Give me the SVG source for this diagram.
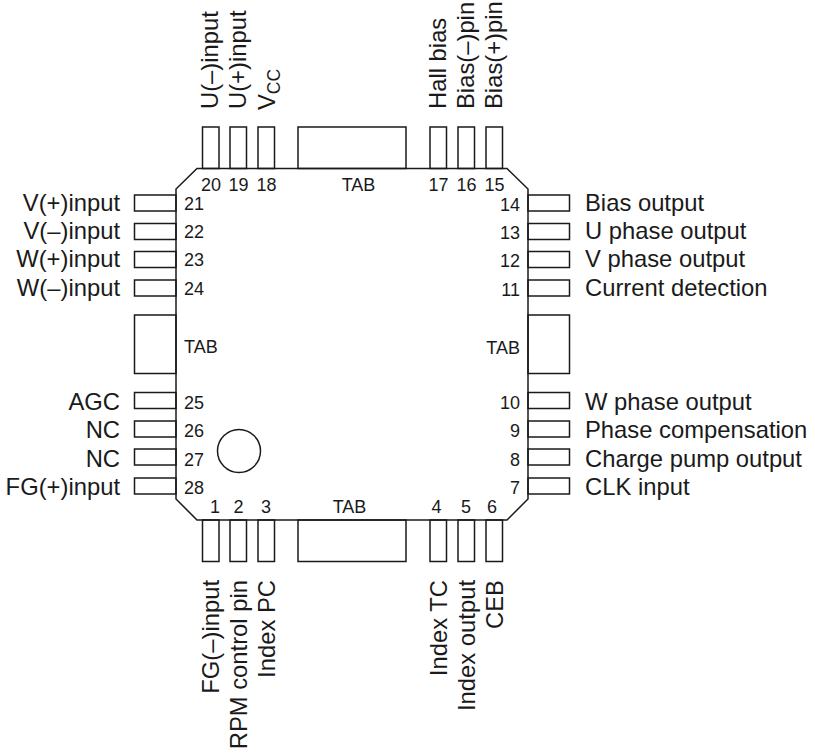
<svg xmlns="http://www.w3.org/2000/svg" width="815" height="755" viewBox="0 0 815 755">
<style>
rect,polygon,circle{fill:#fff;stroke:#1a1a1a;stroke-width:1.5}
text{font-family:"Liberation Sans",Arial,sans-serif;fill:#1a1a1a}
.l{font-size:23.8px}
.n{font-size:18px}
.e{text-anchor:end}
.m{text-anchor:middle}
</style>
<rect width="815" height="755" style="fill:#fff;stroke:none"/>
<g id="pins">
<rect x="202.500" y="127" width="16.500" height="41.500"/><rect x="230" y="127" width="16.500" height="41.500"/><rect x="258" y="127" width="16.500" height="41.500"/>
<rect x="298" y="127" width="108" height="41.500"/>
<rect x="430" y="127" width="16.500" height="41.500"/><rect x="458" y="127" width="16.500" height="41.500"/><rect x="486" y="127" width="16.500" height="41.500"/>
<rect x="202.500" y="520" width="16.500" height="41.500"/><rect x="230" y="520" width="16.500" height="41.500"/><rect x="258" y="520" width="16.500" height="41.500"/>
<rect x="298" y="520" width="108" height="41.500"/>
<rect x="430" y="520" width="16.500" height="41.500"/><rect x="458" y="520" width="16.500" height="41.500"/><rect x="486" y="520" width="16.500" height="41.500"/>
<rect x="134.500" y="195" width="41.500" height="16"/><rect x="134.500" y="223.500" width="41.500" height="16"/><rect x="134.500" y="251.500" width="41.500" height="16"/><rect x="134.500" y="280" width="41.500" height="16"/>
<rect x="134.500" y="315" width="41.500" height="58.500"/>
<rect x="134.500" y="392.500" width="41.500" height="16"/><rect x="134.500" y="421" width="41.500" height="16"/><rect x="134.500" y="449" width="41.500" height="16"/><rect x="134.500" y="478" width="41.500" height="16"/>
<rect x="528" y="195" width="41.500" height="16"/><rect x="528" y="223.500" width="41.500" height="16"/><rect x="528" y="251.500" width="41.500" height="16"/><rect x="528" y="280" width="41.500" height="16"/>
<rect x="528" y="315" width="41.500" height="58.500"/>
<rect x="528" y="392.500" width="41.500" height="16"/><rect x="528" y="421" width="41.500" height="16"/><rect x="528" y="449" width="41.500" height="16"/><rect x="528" y="478" width="41.500" height="16"/>
</g>
<g id="package">
<polygon points="197,168.500 507,168.500 528,189 528,499 507,520 197,520 176,499 176,189" style="fill:none"/>
<circle cx="239" cy="451" r="21.500"/>
</g>
<g id="pin-numbers" class="n">
<text x="211" y="191" class="m">20</text><text x="238.500" y="191" class="m">19</text><text x="266.500" y="191" class="m">18</text>
<text x="358.500" y="191" class="m">TAB</text>
<text x="438.500" y="191" class="m">17</text><text x="466.500" y="191" class="m">16</text><text x="494.500" y="191" class="m">15</text>
<text x="184" y="209.500">21</text><text x="184" y="238">22</text><text x="184" y="266">23</text><text x="184" y="295">24</text>
<text x="184" y="353">TAB</text>
<text x="184" y="408.500">25</text><text x="184" y="437">26</text><text x="184" y="465.500">27</text><text x="184" y="494">28</text>
<text x="520" y="210.500" class="e">14</text><text x="520" y="239" class="e">13</text><text x="520" y="267" class="e">12</text><text x="520" y="296" class="e">11</text>
<text x="520" y="353.500" class="e">TAB</text>
<text x="520" y="408.500" class="e">10</text><text x="520" y="437" class="e">9</text><text x="520" y="465.500" class="e">8</text><text x="520" y="494" class="e">7</text>
<text x="215" y="512.500" class="m">1</text><text x="238.500" y="512.500" class="m">2</text><text x="266" y="512.500" class="m">3</text>
<text x="349.500" y="512.500" class="m">TAB</text>
<text x="436.500" y="512.500" class="m">4</text><text x="466" y="512.500" class="m">5</text><text x="492" y="512.500" class="m">6</text>
</g>
<g id="labels" class="l">
<text class="e" x="120" y="211">V(+)input</text><text class="e" x="120" y="239">V(–)input</text><text class="e" x="120" y="267">W(+)input</text><text class="e" x="120" y="296">W(–)input</text>
<text class="e" x="120" y="410">AGC</text><text class="e" x="120" y="438">NC</text><text class="e" x="120" y="467">NC</text><text class="e" x="120" y="495">FG(+)input</text>
<text x="585" y="211">Bias output</text><text x="585" y="239">U phase output</text><text x="585" y="267">V phase output</text><text x="585" y="296">Current detection</text>
<text x="585" y="410">W phase output</text><text x="585" y="438">Phase compensation</text><text x="585" y="467">Charge pump output</text><text x="585" y="495">CLK input</text>
<text transform="translate(218,109) rotate(-90)">U(–)input</text>
<text transform="translate(246,109) rotate(-90)">U(+)input</text>
<text transform="translate(274.500,110) rotate(-90)">V<tspan font-size="17.500" dy="5.500">CC</tspan></text>
<text transform="translate(446,109) rotate(-90)">Hall bias</text>
<text transform="translate(474,109) rotate(-90)">Bias(–)pin</text>
<text transform="translate(502,109) rotate(-90)">Bias(+)pin</text>
<text class="e" transform="translate(218.500,580) rotate(-90)">FG(–)input</text>
<text class="e" transform="translate(246.500,580) rotate(-90)">RPM control pin</text>
<text class="e" transform="translate(274.500,580) rotate(-90)">Index PC</text>
<text class="e" transform="translate(446.500,580) rotate(-90)">Index TC</text>
<text class="e" transform="translate(474.500,580) rotate(-90)">Index output</text>
<text class="e" transform="translate(502.500,580) rotate(-90)">CEB</text>
</g>
</svg>
